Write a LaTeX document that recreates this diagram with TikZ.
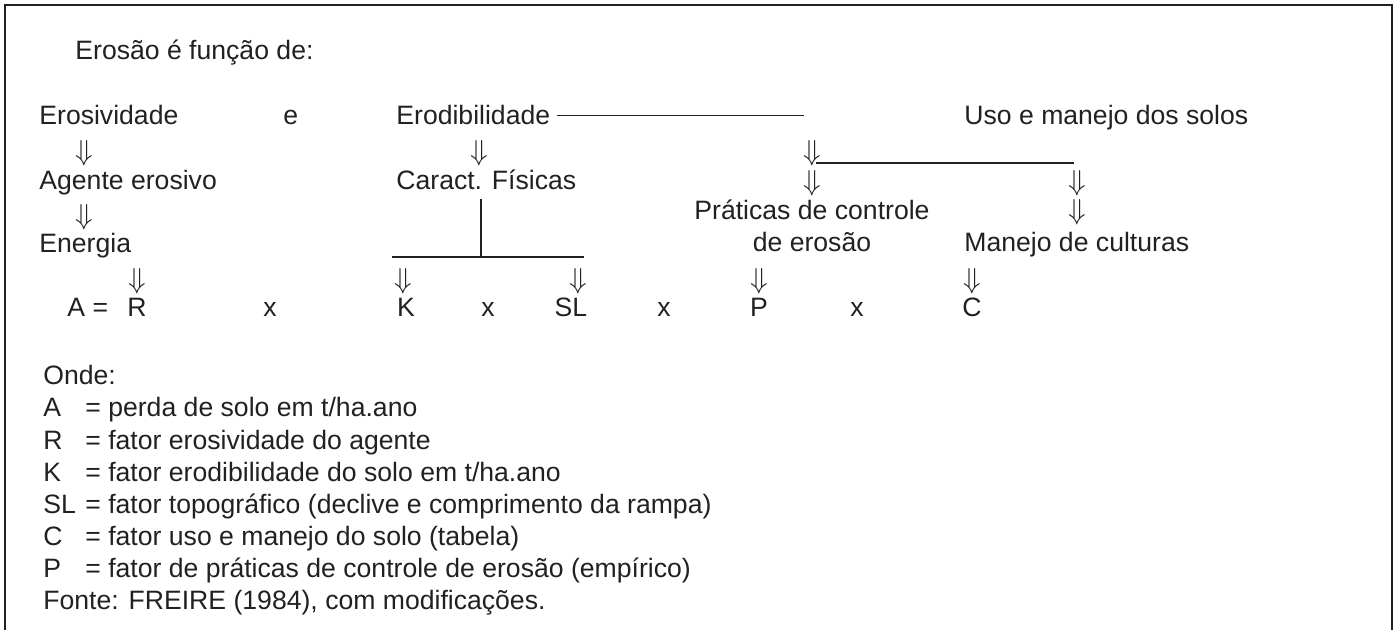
\documentclass[tikz,border=0pt]{standalone}
\usepackage{fontspec}
\setmainfont{Liberation Sans}
\usetikzlibrary{calc}
\definecolor{ink}{gray}{0.13}

\begin{document}
\begin{tikzpicture}[x=0.5pt,y=-0.5pt,
  every node/.style={font=\fontsize{13.3}{16}\selectfont,text=ink,inner sep=0pt},
  txt/.style={anchor=base west},
  ctr/.style={anchor=base},
  dn/.style={anchor=center,font=\fontsize{14.5}{16}\selectfont}]
  \useasboundingbox (0,0) rectangle (1394,630);
  \draw [ink,line width=1pt] (5,630) -- (5,5) -- (1392,5) -- (1392,630);

  \node [txt] (titulo) at (75,60) {Erosão é função de:};

  \node [txt] (erosiv) at (39,125) {Erosividade};
  \node [txt] (e1) at (283,125) {e};
  \node [txt] (erodib) at (396,125) {Erodibilidade};
  \node [txt] (uso) at (964,125) {Uso e manejo dos solos};

  \node [txt] (agente) at (39,190) {Agente erosivo};
  \node [txt] (caract) at (396,190) {Caract. Físicas};
  \node [txt] (energia) at (39,253) {Energia};
  \node [ctr] (prat1) at (812,220) {Práticas de controle};
  \node [ctr] (prat2) at (812,252) {de erosão};
  \node [txt] (manejo) at (964,252) {Manejo de culturas};

  \node [dn] (d1) at (84,153) {$\Downarrow$};
  \node [dn] (d2) at (84,217) {$\Downarrow$};
  \node [dn] (d3) at (137,281) {$\Downarrow$};
  \node [dn] (d4) at (479,153) {$\Downarrow$};
  \node [dn] (d5) at (403,281) {$\Downarrow$};
  \node [dn] (d6) at (578,281) {$\Downarrow$};
  \node [dn] (d7) at (812,153) {$\Downarrow$};
  \node [dn] (d8) at (812,183) {$\Downarrow$};
  \node [dn] (d9) at (1077,183) {$\Downarrow$};
  \node [dn] (d10) at (1077,212) {$\Downarrow$};
  \node [dn] (d11) at (759,281) {$\Downarrow$};
  \node [dn] (d12) at (972,281) {$\Downarrow$};

  \coordinate (r1b) at (804,116);
  \coordinate (jK) at (481,257);
  \coordinate (r2b) at (1074,163);
  \draw [ink,line width=0.8pt] ($ (erodib.east)+(6,0) $) -- (erodib.east -| r1b);
  \draw [ink,line width=0.8pt] ($ (caract.south -| jK)+(0,8) $) -- (jK);
  \draw [ink,line width=0.8pt] (392,257) -- (jK) -- (584,257);
  \draw [ink,line width=0.8pt] (816,163) -- (r2b);

  \node [txt] (eqA) at (67,317) {A =};
  \node [ctr] (eqR) at (137,317) {R};
  \node [ctr] (eqK) at (406,317) {K};
  \node [ctr] (eqSL) at (571,317) {SL};
  \node [ctr] (eqP) at (759,317) {P};
  \node [ctr] (eqC) at (972,317) {C};
  \foreach \x [count=\i] in {270,488,664,857}
    \node [ctr] (vez\i) at (\x,317) {x};

  \node [txt] (onde) at (43,385) {Onde:};
  \node [txt] (lA) at (43,417) {A};
  \node [txt] (tA) at (85,417) {= perda de solo em t/ha.ano};
  \node [txt] (lR) at (43,450) {R};
  \node [txt] (tR) at (85,450) {= fator erosividade do agente};
  \node [txt] (lK) at (43,482) {K};
  \node [txt] (tK) at (85,482) {= fator erodibilidade do solo em t/ha.ano};
  \node [txt] (lSL) at (43,514) {SL};
  \node [txt] (tSL) at (85,514) {= fator topográfico (declive e comprimento da rampa)};
  \node [txt] (lC) at (43,546) {C};
  \node [txt] (tC) at (85,546) {= fator uso e manejo do solo (tabela)};
  \node [txt] (lP) at (43,578) {P};
  \node [txt] (tP) at (85,578) {= fator de práticas de controle de erosão (empírico)};
  \node [txt] (fonte) at (43,610) {Fonte: FREIRE (1984), com modificações.};
\end{tikzpicture}
\end{document}
